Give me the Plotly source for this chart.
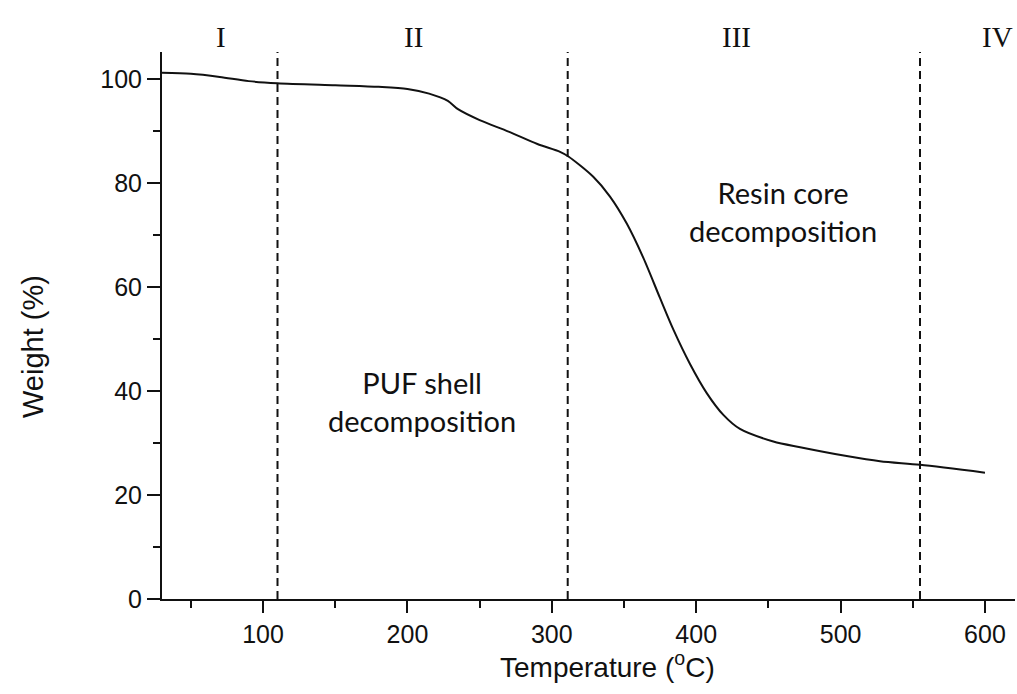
import plotly.graph_objects as go

temperature = [30, 50, 70, 90, 110, 150, 180, 200, 215, 228, 235, 250, 270, 290, 305.7, 311.5,
               328.7, 340.3, 351.9, 363.4, 374.9, 384.2, 395.7, 407.3, 418.8, 430.3, 453.4,
               472, 504.2, 527.3, 555, 600]
weight = [101.2, 101.0, 100.4, 99.6, 99.2, 98.8, 98.5, 98.1, 97.2, 95.8, 94.2, 92.1, 89.9, 87.5, 86.0, 85.1,
          81.2, 77.4, 72.2, 65.6, 57.9, 51.8, 45.2, 39.6, 35.4, 32.7, 30.3,
          29.2, 27.5, 26.5, 25.8, 24.3]

stage_bounds = [110, 311, 555]
stage_labels = ["I", "II", "III", "IV"]
stage_label_x = [71, 204, 428, 609]
region_texts = ["PUF shell<br>decomposition", "Resin core<br>decomposition"]
region_x = [210, 460]
region_y = [38, 74.5]

x_range = [30, 620.8]
y_range = [0, 105.2]
x_ticks = [100, 200, 300, 400, 500, 600]
y_ticks = [0, 20, 40, 60, 80, 100]

fig = go.Figure()
fig.add_trace(go.Scatter(x=temperature, y=weight, mode="lines",
                         line=dict(color="#111111", width=2, shape="spline", smoothing=0.8),
                         showlegend=False, hoverinfo="skip"))

for xb in stage_bounds:
    fig.add_shape(type="line", x0=xb, x1=xb, y0=y_range[0], y1=y_range[1], xref="x", yref="y",
                  line=dict(color="#111111", width=2, dash="8px,5px"))

for lab, lx in zip(stage_labels, stage_label_x):
    fig.add_annotation(x=lx, y=1.0, xref="x", yref="paper", yshift=15, yanchor="middle",
                       text=lab, showarrow=False,
                       font=dict(family="Liberation Serif", size=29, color="#111111"))

for t, rx, ry in zip(region_texts, region_x, region_y):
    fig.add_annotation(x=rx, y=ry, xref="x", yref="y", text=t, showarrow=False,
                       font=dict(family="Lato", size=29, color="#111111"))

fig.add_annotation(x=0.522, y=-0.085, xref="paper", yref="paper", yanchor="top", xanchor="center",
                   text="Temperature (<sup>o</sup>C)", showarrow=False,
                   font=dict(family="Liberation Sans", size=28, color="#111111"))

fig.add_annotation(x=-0.151, y=0.461, xref="paper", yref="paper", textangle=-90,
                   xanchor="center", yanchor="middle",
                   text="Weight (%)", showarrow=False,
                   font=dict(family="Liberation Sans", size=29, color="#111111"))

fig.update_layout(
    width=1017, height=694,
    margin=dict(l=162, r=2, t=52, b=95),
    paper_bgcolor="white", plot_bgcolor="white",
    font=dict(family="Liberation Sans", color="#111111"),
    xaxis=dict(range=x_range, tickvals=x_ticks, showgrid=False, zeroline=False,
               showline=True, linecolor="#111111", linewidth=2,
               ticks="outside", ticklen=12, tickwidth=2, tickcolor="#111111",
               tickfont=dict(size=25, family="Liberation Sans"),
               minor=dict(tickvals=[50, 150, 250, 350, 450, 550], ticks="outside", ticklen=7,
                          tickwidth=2, tickcolor="#111111")),
    yaxis=dict(range=y_range, tickvals=y_ticks, showgrid=False, zeroline=False,
               showline=True, linecolor="#111111", linewidth=2,
               ticks="outside", ticklen=13, tickwidth=2, tickcolor="#111111",
               tickfont=dict(size=25, family="Liberation Sans"),
               minor=dict(tickvals=[10, 30, 50, 70, 90], ticks="outside", ticklen=7,
                          tickwidth=2, tickcolor="#111111")),
)

fig.write_html("out.html")
